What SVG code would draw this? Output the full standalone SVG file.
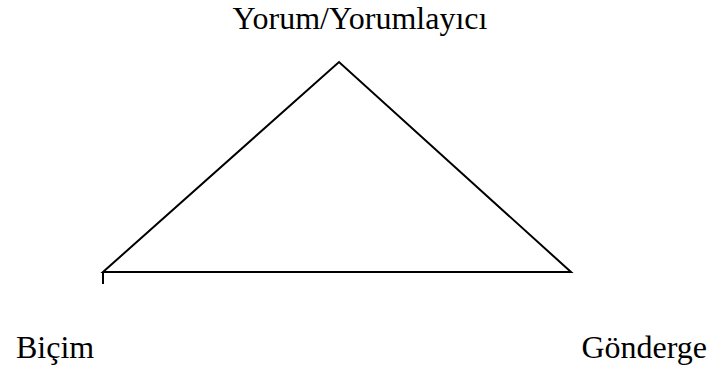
<svg xmlns="http://www.w3.org/2000/svg" width="711" height="370" viewBox="0 0 711 370">
<style>
.t{font-family:"Liberation Serif","Times New Roman",serif;font-size:32px;fill:#000}
.l{stroke:#000;stroke-width:2;fill:none}
</style>
<rect width="711" height="370" fill="#fff"/>
<g id="connectors">
<path class="l" d="M103,272 L339,62 L571,272 Z"/>
<line class="l" x1="103" y1="272" x2="103" y2="284"/>
</g>
<g id="top"><text class="t" x="360" y="29" text-anchor="middle">Yorum/Yorumlayıcı</text></g>
<g id="left"><text class="t" x="16" y="358">Biçim</text></g>
<g id="right"><text class="t" x="707" y="358" text-anchor="end">Gönderge</text></g>
</svg>
